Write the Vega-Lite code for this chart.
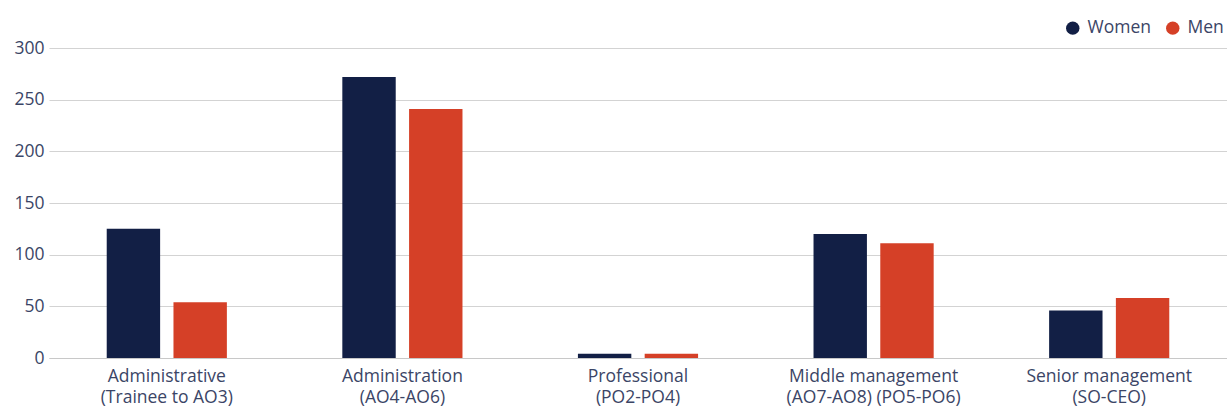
{
  "$schema": "https://vega.github.io/schema/vega-lite/v6.json",
  "width": 1178,
  "height": 310,
  "autosize": {"type": "none"},
  "padding": {"left": 49, "top": 48, "right": 0, "bottom": 51},
  "background": "white",
  "config": {
    "view": {"stroke": null},
    "font": "Open Sans",
    "axis": {"labelFont": "Open Sans", "labelColor": "#3b4566", "labelFontSize": 17.5}
  },
  "data": {
    "values": [
      {"category": "Administrative|(Trainee to AO3)", "gender": "Women", "value": 125},
      {"category": "Administrative|(Trainee to AO3)", "gender": "Men", "value": 54},
      {"category": "Administration|(AO4-AO6)", "gender": "Women", "value": 272},
      {"category": "Administration|(AO4-AO6)", "gender": "Men", "value": 241},
      {"category": "Professional|(PO2-PO4)", "gender": "Women", "value": 4},
      {"category": "Professional|(PO2-PO4)", "gender": "Men", "value": 4},
      {"category": "Middle management|(AO7-AO8) (PO5-PO6)", "gender": "Women", "value": 120},
      {"category": "Middle management|(AO7-AO8) (PO5-PO6)", "gender": "Men", "value": 111},
      {"category": "Senior management|(SO-CEO)", "gender": "Women", "value": 46},
      {"category": "Senior management|(SO-CEO)", "gender": "Men", "value": 58}
    ]
  },
  "mark": {"type": "bar"},
  "encoding": {
    "x": {
      "field": "category",
      "type": "nominal",
      "sort": null,
      "title": null,
      "scale": {"paddingInner": 0.49, "paddingOuter": 0.245},
      "axis": {
        "labelAngle": 0,
        "labelExpr": "split(datum.label, '|')",
        "labelLineHeight": 21,
        "labelPadding": 9,
        "ticks": false,
        "domainColor": "#c8c8c8",
        "domainWidth": 1
      }
    },
    "xOffset": {
      "field": "gender",
      "type": "nominal",
      "sort": ["Women", "Men"],
      "scale": {"paddingInner": 0.2, "paddingOuter": 0}
    },
    "y": {
      "field": "value",
      "type": "quantitative",
      "title": null,
      "scale": {"domain": [0, 300], "nice": false},
      "axis": {
        "values": [0, 50, 100, 150, 200, 250, 300],
        "domain": false,
        "ticks": false,
        "labelPadding": 5,
        "gridColor": "#d3d3d3",
        "gridWidth": 1
      }
    },
    "color": {
      "field": "gender",
      "type": "nominal",
      "sort": ["Women", "Men"],
      "scale": {"domain": ["Women", "Men"], "range": ["#121f45", "#d54027"]},
      "legend": {
        "title": null,
        "orient": "none",
        "direction": "horizontal",
        "legendX": 1015,
        "legendY": -29,
        "symbolType": "circle",
        "symbolSize": 180,
        "symbolStrokeWidth": 0,
        "labelFontSize": 17.5,
        "labelColor": "#3b4566",
        "labelFont": "Open Sans",
        "columnPadding": 13,
        "labelOffset": 6
      }
    }
  }
}
